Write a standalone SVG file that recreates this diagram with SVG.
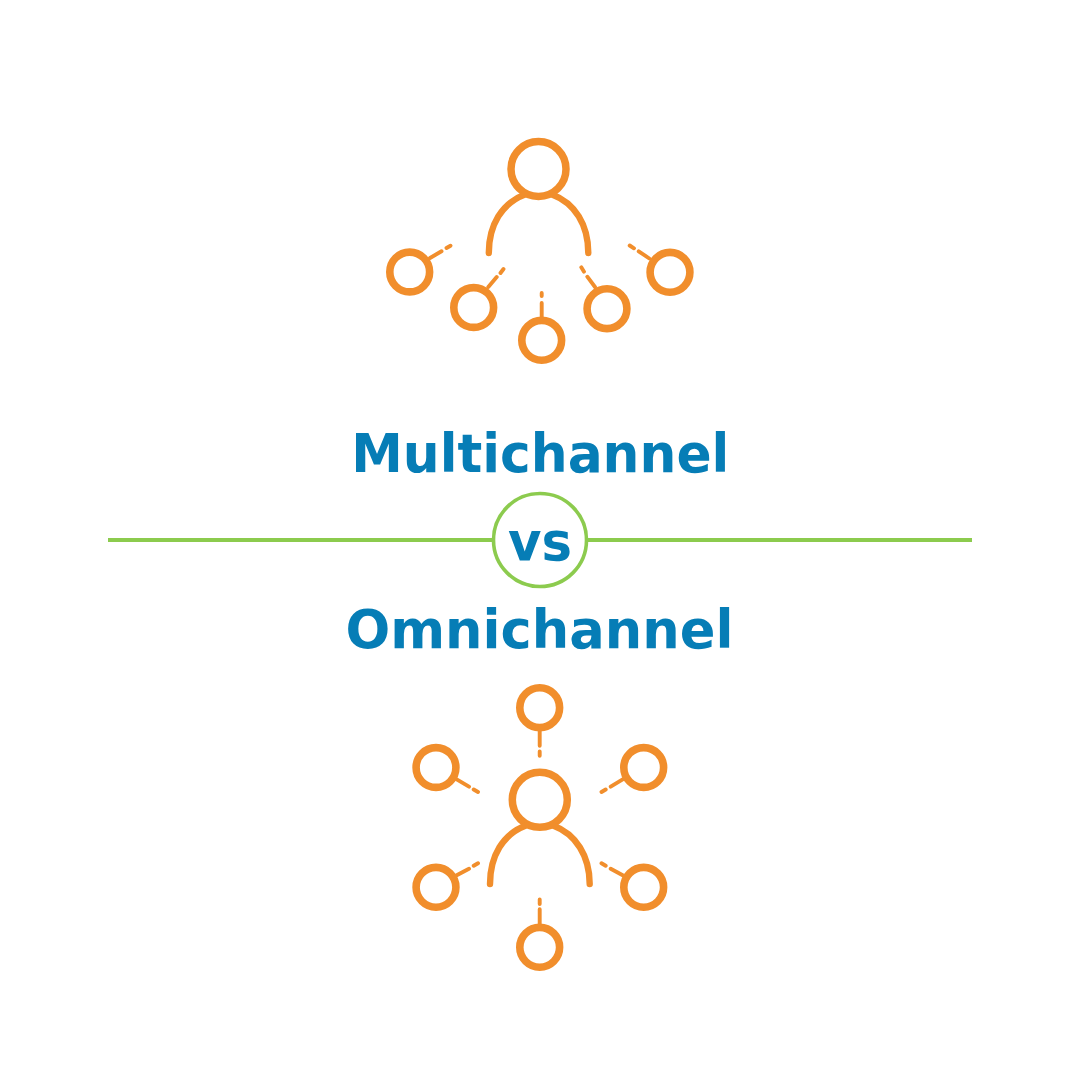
<svg xmlns="http://www.w3.org/2000/svg" width="1080" height="1080" viewBox="0 0 1080 1080">
<style>
.head{fill:none;stroke:#F18E2C;stroke-width:7.500}
.ring{fill:none;stroke:#F18E2C;stroke-width:7.600}
.body{fill:none;stroke:#F18E2C;stroke-width:6.400;stroke-linecap:round}
.link{fill:none;stroke:#F18E2C;stroke-width:3.900;stroke-linecap:round}
.title{font-family:"DejaVu Sans",sans-serif;font-weight:700;font-size:54px;fill:#067DB6;text-anchor:middle}
.green{fill:none;stroke:#8CCB4E}
</style>
<rect width="1080" height="1080" fill="#FFFFFF"/>
<g id="connectors">
<path class="link" d="M430 258L441.500 251.300M446.500 248L450.500 245.700M488.300 287L496.700 277M500.500 273L503.500 269M541.700 317V303M541.700 293V296M595 287L587.300 276.700M584 271.700L581.300 267.300M649.300 258.500L638.700 251.300M634 248.300L629.700 245.500"/>
<path class="link" d="M539.700 731V745.700M539.700 751.500V755.800M456.700 779.300L469 786.700M473.700 789.500L478 792M622.700 779.300L610.700 786.700M605.700 789.500L601.500 792M456.700 875.300L469 868.700M473.700 865.800L478 863.300M622.700 875.300L610.700 868.700M605.700 865.800L601.500 863.300M539.700 924V909.300M539.700 899.500V904"/>
<path class="green" stroke-width="4" d="M108 540H492M588 540H972"/>
</g>
<g id="multichannel-person">
<circle class="head" cx="538.500" cy="169" r="27.500"/>
<path class="body" d="M488.800 253C488.800 225 502 203 525 194.500M588.300 253C588.300 225 575 203 552 194.500"/>
</g>
<g id="multichannel-contact-1"><circle class="ring" cx="409.700" cy="272" r="19.900"/></g>
<g id="multichannel-contact-2"><circle class="ring" cx="473.700" cy="307.500" r="19.900"/></g>
<g id="multichannel-contact-3"><circle class="ring" cx="541.700" cy="340.300" r="19.900"/></g>
<g id="multichannel-contact-4"><circle class="ring" cx="607" cy="308.700" r="19.900"/></g>
<g id="multichannel-contact-5"><circle class="ring" cx="670" cy="272.300" r="19.900"/></g>
<g id="title-multichannel"><text class="title" x="540.300" y="472" textLength="378" lengthAdjust="spacingAndGlyphs">Multichannel</text></g>
<g id="vs-badge">
<circle class="green" stroke-width="3.600" cx="540" cy="540" r="46.500"/>
<text class="title" x="540" y="560" textLength="64" lengthAdjust="spacingAndGlyphs">vs</text>
</g>
<g id="title-omnichannel"><text class="title" x="539.500" y="648" textLength="388" lengthAdjust="spacingAndGlyphs">Omnichannel</text></g>
<g id="omnichannel-person">
<circle class="head" cx="539.800" cy="799.800" r="27.500"/>
<path class="body" d="M490 884C490 856 503 834 526 825.500M589.700 884C589.700 856 576 834 553 825.500"/>
</g>
<g id="omnichannel-contact-1"><circle class="ring" cx="539.700" cy="707.700" r="19.900"/></g>
<g id="omnichannel-contact-2"><circle class="ring" cx="436" cy="767.500" r="19.900"/></g>
<g id="omnichannel-contact-3"><circle class="ring" cx="643.700" cy="767.500" r="19.900"/></g>
<g id="omnichannel-contact-4"><circle class="ring" cx="436" cy="887.300" r="19.900"/></g>
<g id="omnichannel-contact-5"><circle class="ring" cx="643.700" cy="887.300" r="19.900"/></g>
<g id="omnichannel-contact-6"><circle class="ring" cx="539.700" cy="947.300" r="19.900"/></g>
</svg>
